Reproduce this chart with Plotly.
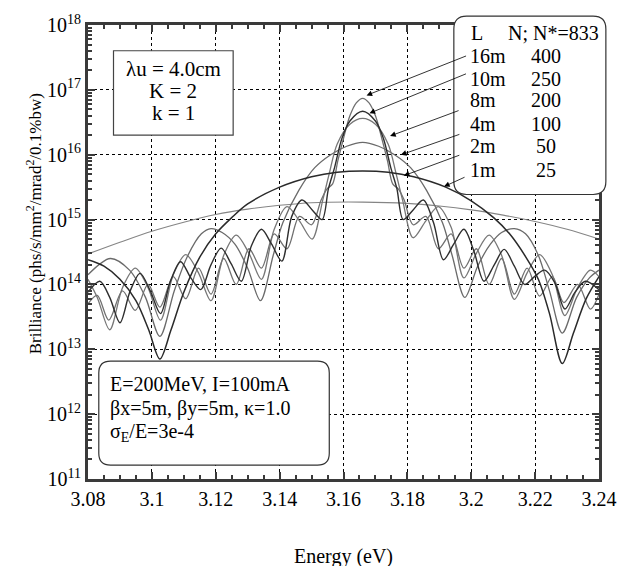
import plotly.graph_objects as go

# ---------------- data ----------------
x_ticks = [3.08, 3.10, 3.12, 3.14, 3.16, 3.18, 3.20, 3.22, 3.24]
x_ticklabels = ["3.08", "3.1", "3.12", "3.14", "3.16", "3.18", "3.2", "3.22", "3.24"]
y_ticks = [1e11, 1e12, 1e13, 1e14, 1e15, 1e16, 1e17, 1e18]
y_ticklabels = ["10<sup>11</sup>", "10<sup>12</sup>", "10<sup>13</sup>", "10<sup>14</sup>",
                "10<sup>15</sup>", "10<sup>16</sup>", "10<sup>17</sup>", "10<sup>18</sup>"]

energy_1m = [3.08, 3.09, 3.10, 3.11, 3.12, 3.13, 3.14, 3.15, 3.166, 3.18, 3.19, 3.20, 3.21, 3.22, 3.23, 3.24]
bril_1m = [2.95e14, 4.47e14, 6.61e14, 9.12e14, 1.20e15, 1.45e15, 1.66e15, 1.82e15, 1.86e15,
           1.78e15, 1.62e15, 1.41e15, 1.17e15, 9.33e14, 7.08e14, 5.01e14]

energy_2m = [3.08, 3.085, 3.09, 3.095, 3.099, 3.1025, 3.106, 3.11, 3.115, 3.12, 3.125, 3.13, 3.14,
             3.15, 3.158, 3.166, 3.174, 3.182, 3.192, 3.20, 3.207, 3.212, 3.217, 3.221, 3.2245,
             3.2285, 3.232, 3.236, 3.24]
bril_2m = [2.40e14, 1.91e14, 1.20e14, 5.62e13, 2.00e13, 7.08e12, 2.00e13, 7.59e13, 2.63e14, 6.03e14,
           1.07e15, 1.74e15, 3.16e15, 4.57e15, 5.37e15, 5.62e15, 5.37e15, 4.57e15, 3.16e15, 1.95e15,
           1.07e15, 6.03e14, 2.69e14, 1.20e14, 3.55e13, 6.03e12, 1.78e13, 6.03e13, 1.32e14]

energy_4m = [3.080, 3.087, 3.093, 3.098, 3.1025, 3.107, 3.111, 3.1155, 3.1185, 3.122, 3.126, 3.130,
             3.134, 3.138, 3.141, 3.146, 3.151, 3.156, 3.161, 3.166, 3.171, 3.176, 3.181, 3.186,
             3.191, 3.194, 3.198, 3.202, 3.206, 3.2095, 3.2135, 3.217, 3.221, 3.2245, 3.2285,
             3.233, 3.237, 3.240]
bril_4m = [1.41e14, 2.51e14, 1.66e14, 6.31e13, 1.58e13, 7.94e13, 2.63e14, 6.03e14, 7.24e14, 6.31e14,
           4.17e14, 1.78e14, 5.62e13, 2.82e14, 8.91e14, 2.82e15, 6.31e15, 1.00e16, 1.35e16, 1.55e16,
           1.35e16, 1.00e16, 6.31e15, 2.82e15, 8.91e14, 2.82e14, 6.31e13, 1.91e14, 4.17e14, 6.31e14,
           7.24e14, 6.03e14, 2.82e14, 7.94e13, 1.78e13, 6.31e13, 1.26e14, 1.66e14]

energy_8m = [3.0800, 3.0829, 3.0868, 3.0908, 3.0948, 3.0988, 3.1027, 3.1067, 3.1106, 3.1146, 3.1185,
             3.1225, 3.1264, 3.1304, 3.1343, 3.1383, 3.1423, 3.1462, 3.1502, 3.1535, 3.1555, 3.1580,
             3.1620, 3.1660, 3.1700, 3.1740, 3.1765, 3.1785, 3.1818, 3.1858, 3.1897, 3.1937, 3.1977,
             3.2016, 3.2056, 3.2095, 3.2135, 3.2175, 3.2214, 3.2254, 3.2293, 3.2333, 3.2373, 3.2400]
bril_8m = [1.20e14, 6.31e13, 2.00e13, 8.91e13, 1.78e14, 8.91e13, 2.82e13, 1.41e14, 2.88e14, 1.51e14,
           5.62e13, 2.82e14, 5.75e14, 3.02e14, 1.20e14, 7.08e14, 1.58e15, 9.55e14, 5.01e14, 2.00e15,
           5.01e15, 1.45e16, 2.95e16, 3.63e16, 2.95e16, 1.45e16, 5.01e15, 2.00e15, 5.25e14, 9.55e14,
           1.58e15, 7.59e14, 1.26e14, 3.02e14, 5.75e14, 2.82e14, 5.89e13, 1.51e14, 2.88e14, 1.41e14,
           3.31e13, 8.91e13, 1.66e14, 1.32e14]

energy_10m = [3.0800, 3.0837, 3.0868, 3.0900, 3.0932, 3.0963, 3.0995, 3.1027, 3.1058, 3.1090, 3.1122,
              3.1153, 3.1185, 3.1217, 3.1248, 3.1280, 3.1312, 3.1343, 3.1375, 3.1407, 3.1438, 3.1470,
              3.1502, 3.1533, 3.1553, 3.1572, 3.1595, 3.1620, 3.1660, 3.1700, 3.1725, 3.1748, 3.1767,
              3.1787, 3.1818, 3.1850, 3.1882, 3.1913, 3.1945, 3.1977, 3.2008, 3.2040, 3.2072, 3.2103,
              3.2135, 3.2167, 3.2198, 3.2230, 3.2262, 3.2293, 3.2325, 3.2357, 3.2400]
bril_10m = [7.59e13, 1.12e14, 6.31e13, 2.57e13, 7.94e13, 1.48e14, 7.94e13, 3.55e13, 1.12e14, 2.24e14,
            1.26e14, 8.32e13, 2.00e14, 3.63e14, 2.09e14, 1.12e14, 3.98e14, 7.08e14, 4.17e14, 2.29e14,
            1.12e15, 2.00e15, 1.41e15, 1.00e15, 3.02e15, 6.31e15, 1.78e16, 3.31e16, 4.68e16, 3.31e16,
            1.78e16, 6.31e15, 3.02e15, 1.00e15, 1.41e15, 2.00e15, 8.91e14, 2.40e14, 4.17e14, 7.08e14,
            3.31e14, 1.12e14, 2.00e14, 3.47e14, 1.91e14, 1.00e14, 1.32e14, 1.66e14, 1.05e14, 4.17e13,
            7.59e13, 1.12e14, 8.32e13]

energy_16m = [3.0800, 3.0829, 3.0865, 3.0908, 3.0948, 3.0988, 3.1025, 3.1067, 3.1106, 3.1146, 3.1185,
              3.1225, 3.1264, 3.1304, 3.1343, 3.1383, 3.1423, 3.1462, 3.1500, 3.1530, 3.1548, 3.1566,
              3.1582, 3.1600, 3.1620, 3.1640, 3.1660, 3.1680, 3.1700, 3.1720, 3.1738, 3.1754, 3.1772,
              3.1790, 3.1818, 3.1858, 3.1897, 3.1937, 3.1977, 3.2016, 3.2056, 3.2095, 3.2135, 3.2175,
              3.2214, 3.2254, 3.2290, 3.2333, 3.2373, 3.2400]
bril_16m = [5.01e13, 6.76e13, 2.82e13, 7.94e13, 3.98e13, 1.00e14, 4.47e13, 1.32e14, 6.03e13, 1.78e14,
            7.08e13, 2.51e14, 1.00e14, 3.55e14, 1.78e14, 6.03e14, 3.55e14, 1.12e15, 8.32e14, 2.00e15,
            2.95e15, 3.55e15, 7.94e15, 1.78e16, 3.98e16, 6.31e16, 7.41e16, 6.31e16, 3.98e16, 1.78e16,
            7.94e15, 3.55e15, 2.95e15, 2.00e15, 8.32e14, 1.12e15, 3.55e14, 6.03e14, 1.78e14, 3.55e14,
            1.00e14, 2.51e14, 7.08e13, 1.78e14, 6.61e13, 1.32e14, 5.25e13, 1.00e14, 4.17e13, 7.08e13]

legend_lengths = ["16m", "10m", "8m", "4m", "2m", "1m"]
legend_periods = ["400", "250", "200", "100", "50", "25"]

# ---------------- figure ----------------
W, H = 629, 566
L, R, T, B = 88, 20, 21, 87
PW, PH = W - L - R, H - T - B
FONT = "Liberation Serif"


def px(x):
    return (x - L) / PW


def py(y):
    return (H - B - y) / PH


series = [
    (energy_1m, bril_1m, "#858585", 1.1),
    (energy_4m, bril_4m, "#6a6a6a", 1.3),
    (energy_8m, bril_8m, "#777777", 1.3),
    (energy_16m, bril_16m, "#707070", 1.3),
    (energy_10m, bril_10m, "#2e2e2e", 1.4),
    (energy_2m, bril_2m, "#2a2a2a", 1.5),
]

fig = go.Figure()
for e, b, c, w in series:
    fig.add_trace(go.Scatter(x=e, y=b, mode="lines", showlegend=False, hoverinfo="skip",
                             line=dict(color=c, width=w, shape="spline", smoothing=0.9)))

minor_y = [k * 10 ** n for n in range(11, 18) for k in range(2, 10)]

axis_common = dict(showline=True, linewidth=3, linecolor="#3a3a3a", mirror="ticks",
                   ticks="inside", ticklen=7, tickwidth=1.5, tickcolor="#3a3a3a",
                   showgrid=True, gridcolor="black", gridwidth=1, griddash="dot",
                   zeroline=False, tickfont=dict(family=FONT, size=20, color="black"))

fig.update_layout(
    width=W, height=H, margin=dict(l=L, r=R, t=T, b=B),
    paper_bgcolor="white", plot_bgcolor="white",
    font=dict(family=FONT, size=20, color="black"),
    xaxis=dict(range=[3.08, 3.24], tickmode="array", tickvals=x_ticks, ticktext=x_ticklabels,
               minor=dict(dtick=0.005, tick0=3.08, ticks="inside", ticklen=4, tickwidth=1.5,
                          tickcolor="#3a3a3a", showgrid=False),
               **axis_common),
    yaxis=dict(type="log", range=[11, 18], tickmode="array", tickvals=y_ticks, ticktext=y_ticklabels,
               minor=dict(tickmode="array", tickvals=minor_y, ticks="inside", ticklen=4, tickwidth=1.5,
                          tickcolor="#3a3a3a", showgrid=False),
               **axis_common),
)


def rounded_path(x0, y0, x1, y1, r):
    rx, ry = r / PW, r / PH
    X0, X1 = px(x0), px(x1)
    Y0, Y1 = py(y0), py(y1)  # Y0 is top (larger paper y)
    return (f"M {X0 + rx},{Y0} L {X1 - rx},{Y0} Q {X1},{Y0} {X1},{Y0 - ry} "
            f"L {X1},{Y1 + ry} Q {X1},{Y1} {X1 - rx},{Y1} "
            f"L {X0 + rx},{Y1} Q {X0},{Y1} {X0},{Y1 + ry} "
            f"L {X0},{Y0 - ry} Q {X0},{Y0} {X0 + rx},{Y0} Z")


shapes = [
    dict(type="rect", xref="paper", yref="paper", x0=px(114), x1=px(236), y0=py(132), y1=py(47),
         line=dict(color="#444", width=1.2), fillcolor="white", layer="above"),
    dict(type="path", xref="paper", yref="paper", path=rounded_path(461, 12, 616, 192, 13),
         line=dict(color="#333", width=1.2), fillcolor="white", layer="above"),
    dict(type="path", xref="paper", yref="paper", path=rounded_path(99, 360, 334, 465, 12),
         line=dict(color="#333", width=1.2), fillcolor="white", layer="above"),
]
fig.update_layout(shapes=shapes)

ann = []


def text(x, y, s, anchor="center", size=20):
    ann.append(dict(xref="paper", yref="paper", x=px(x), y=py(y), text=s, showarrow=False,
                    xanchor=anchor, yanchor="middle", font=dict(family=FONT, size=size, color="black")))


# box 1
text(175, 65, "λu = 4.0cm", size=21)
text(175, 88, "K = 2", size=21)
text(175, 110, "k = 1", size=21)
# legend box
text(476, 29, "L", "left")
text(514, 29, "N; N*=833", "left")
rows_y = [52, 75, 97, 121, 143, 167]
for lab, n, yy in zip(legend_lengths, legend_periods, rows_y):
    text(475, yy, lab, "left")
    text(555, yy, n, "center")
# parameter box
text(108, 383, "E=200MeV, I=100mA", "left")
text(108, 408, "βx=5m, βy=5m, κ=1.0", "left")
text(108, 432, "σ<sub>E</sub>/E=3e-4", "left")

# arrows from legend to curves (tip, tail in pixels)
arrows = [((372, 92), (473, 52)), ((375, 110), (473, 70)), ((396, 133), (466, 107)),
          ((407, 152), (467, 131)), ((410, 173), (467, 152)), ((451, 184), (473, 174))]
for (tx, ty), (sx, sy) in arrows:
    ann.append(dict(xref="paper", yref="paper", x=px(tx), y=py(ty), ax=sx - tx, ay=sy - ty,
                    text="", showarrow=True, arrowhead=2, arrowsize=1.4, arrowwidth=0.8,
                    arrowcolor="black", standoff=0))

# axis titles
ann.append(dict(xref="paper", yref="paper", x=px(33), y=py(222),
                text="Brilliance (phs/s/mm<sup>2</sup>/mrad<sup>2</sup>/0.1%bw)",
                textangle=-90, showarrow=False, xanchor="center", yanchor="middle",
                font=dict(family=FONT, size=17, color="black")))
ann.append(dict(xref="paper", yref="paper", x=px(348), y=py(557), text="Energy (eV)",
                showarrow=False, xanchor="center", yanchor="middle",
                font=dict(family=FONT, size=20, color="black")))
fig.update_layout(annotations=ann)

fig.write_html("out.html")
